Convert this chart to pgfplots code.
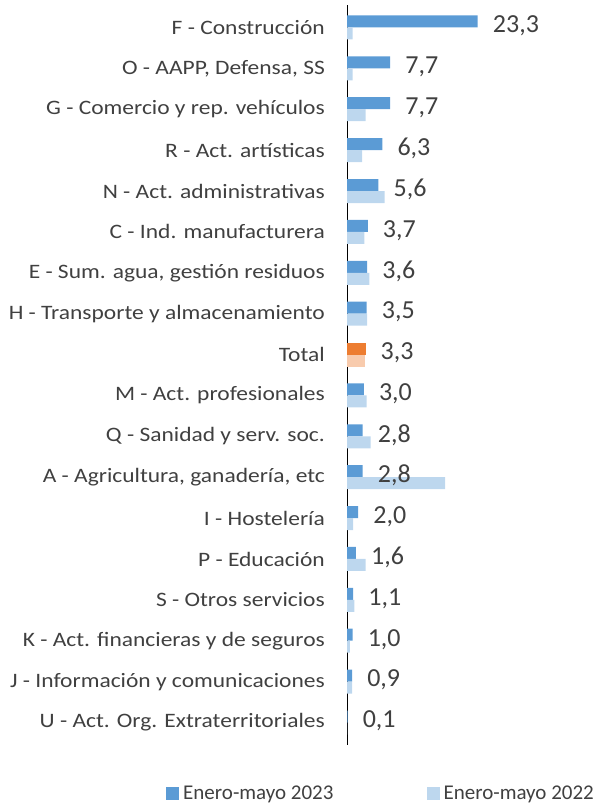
\documentclass[border=0pt]{standalone}
\usepackage{pgfplots}
\pgfplotsset{compat=1.18}
\usepackage{pgfplotstable}
\usepackage{fontspec}
\setmainfont{Carlito}
\newfontfamily\catfont[FakeStretch=1.145]{Carlito}
\definecolor{b23}{HTML}{5B9BD5}
\definecolor{b22}{HTML}{BDD7EE}
\definecolor{o23}{HTML}{ED7D31}
\definecolor{o22}{HTML}{F8CBAD}
\definecolor{txt}{HTML}{404040}

\pgfplotstableread{
y v23 v22
17 23.3 1.0
16 7.7 1.0
15 7.7 3.3
14 6.3 2.7
13 5.6 6.7
12 3.7 3.1
11 3.6 4.0
10 3.5 3.6
8 3.0 3.5
7 2.8 4.2
6 2.8 17.5
5 2.0 1.1
4 1.6 3.3
3 1.1 1.3
2 1.0 0.5
1 0.9 0.9
0 0.1 0.0
}\maindata

\pgfplotstableread{
y v23 v22
9 3.3 3.2
}\totaldata

\begin{document}
\begin{tikzpicture}[x=1pt,y=1pt]
\useasboundingbox (0,0) rectangle (602,805);
\begin{axis}[
  at={(347pt,60pt)}, anchor=south west, scale only axis,
  width=252.5pt, height=740pt,
  xmin=0, xmax=45, ymin=-0.55, ymax=17.55,
  axis x line=none, axis y line*=left,
  axis line style={black, line width=1pt, -},
  ytick={0,...,17},
  yticklabels={U - Act. Org. Extraterritoriales, J - Información y comunicaciones, K - Act. financieras y de seguros, S - Otros servicios, P - Educación, I - Hostelería, A - Agricultura{,} ganadería{,} etc, Q - Sanidad y serv. soc., M - Act. profesionales, Total, H - Transporte y almacenamiento, E - Sum. agua{,} gestión residuos, C - Ind. manufacturera, N - Act. administrativas, R - Act. artísticas, G - Comercio y rep. vehículos, O - AAPP{,} Defensa{,} SS, F - Construcción},
  ytick style={draw=none},
  yticklabel style={font=\catfont\fontsize{20.5}{24}\selectfont, text=txt, anchor=east, inner sep=0pt, xshift=-22pt},
  legend image code/.code={\fill[#1] (0pt,-6.5pt) rectangle (13pt,6.5pt);},
  legend style={at={(-0.7168,-0.066)}, anchor=west, draw=none, fill=none,
    inner sep=0pt, nodes={inner sep=0pt},
    legend columns=2, font=\fontsize{21}{24}\selectfont, text=txt,
    /tikz/every odd column/.append style={column sep=4pt},
    /tikz/every even column/.append style={column sep=93pt}},
  clip=false,
]
\addplot[xbar, bar width=12pt, bar shift=6pt, fill=b23, draw=none,
  point meta=x, nodes near coords,
  nodes near coords style={font=\fontsize{26}{30}\selectfont, text=txt, anchor=west, inner sep=0pt, xshift=15pt, yshift=1.5pt,
    /pgf/number format/.cd, fixed, fixed zerofill, precision=1, use comma, assume math mode=true}]
  table[x=v23, y=y]{\maindata};
\addlegendentry{Enero-mayo 2023}
\addplot[xbar, bar width=12pt, bar shift=-6pt, fill=b22, draw=none]
  table[x=v22, y=y]{\maindata};
\addlegendentry{Enero-mayo 2022}
\addplot[xbar, bar width=12pt, bar shift=6pt, fill=o23, draw=none, forget plot,
  point meta=x, nodes near coords,
  nodes near coords style={font=\fontsize{26}{30}\selectfont, text=txt, anchor=west, inner sep=0pt, xshift=15pt, yshift=1.5pt,
    /pgf/number format/.cd, fixed, fixed zerofill, precision=1, use comma, assume math mode=true}]
  table[x=v23, y=y]{\totaldata};
\addplot[xbar, bar width=12pt, bar shift=-6pt, fill=o22, draw=none, forget plot]
  table[x=v22, y=y]{\totaldata};
\end{axis}
\end{tikzpicture}
\end{document}
